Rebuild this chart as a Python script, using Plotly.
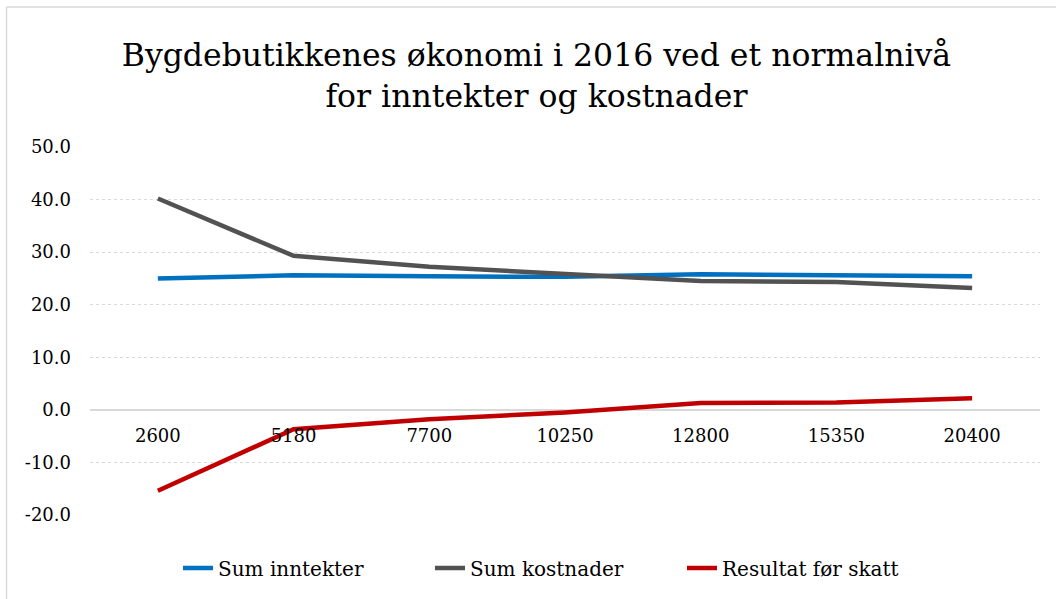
import plotly.graph_objects as go

categories = ["2600", "5180", "7700", "10250", "12800", "15350", "20400"]
sum_inntekter = [25.0, 25.6, 25.4, 25.3, 25.8, 25.7, 25.4]
sum_kostnader = [40.2, 29.3, 27.2, 25.8, 24.5, 24.3, 23.2]
resultat = [-15.4, -3.7, -1.8, -0.5, 1.3, 1.4, 2.2]
series_names = ["Sum inntekter", "Sum kostnader", "Resultat før skatt"]
colors = ["#0070C0", "#525252", "#C00000"]
title_text = "Bygdebutikkenes økonomi i 2016 ved et normalnivå<br>for inntekter og kostnader"
y_ticks = [-20, -10, 0, 10, 20, 30, 40, 50]

FONT = "DejaVu Serif"

fig = go.Figure()
for name, vals, col in zip(series_names, [sum_inntekter, sum_kostnader, resultat], colors):
    fig.add_trace(go.Scatter(x=categories, y=vals, name=name, mode="lines",
                             line=dict(color=col, width=4.5)))

L, R, T, B = 90, 16, 147, 84
W, H = 1056, 599
pw, ph = W - L - R, H - T - B
y_min, y_max = -20, 50

def px_x(p):
    return (p - L) / pw

def px_y(p):
    return (H - B - p) / ph

fig.update_layout(
    width=W, height=H,
    margin=dict(l=L, r=R, t=T, b=B, autoexpand=False),
    paper_bgcolor="white", plot_bgcolor="white",
    font=dict(family=FONT, color="#000000"),
    title=dict(text=title_text, x=0.508, xanchor="center", y=1 - 66 / H, yanchor="middle",
               font=dict(family=FONT, size=31.5, color="#000000")),
    xaxis=dict(type="category", anchor="free", position=(0 - y_min) / (y_max - y_min),
               range=[-0.5, len(categories) - 0.5],
               showgrid=False, showline=False, ticks="", zeroline=False,
               tickfont=dict(family=FONT, size=18, color="#000000"),
               ticklabelstandoff=13),
    yaxis=dict(range=[y_min, y_max], tickvals=y_ticks,
               ticktext=[f"{v:.1f}" for v in y_ticks],
               showgrid=True, gridcolor="#d9d9d9", gridwidth=1, griddash="dot",
               zeroline=True, zerolinecolor="#d9d9d9", zerolinewidth=1.5,
               showline=False, ticks="",
               tickfont=dict(family=FONT, size=18, color="#000000"),
               ticklabelstandoff=18),
    legend=dict(orientation="h", x=px_x(178), xanchor="left", y=px_y(568), yanchor="middle",
                font=dict(family=FONT, size=20, color="#000000"),
                itemwidth=30, entrywidth=207, entrywidthmode="pixels"),
    showlegend=True,
)

border = "#d9d9d9"
fig.add_shape(type="line", xref="paper", yref="paper",
              x0=px_x(6.5), x1=px_x(6.5), y0=px_y(H + 2), y1=px_y(7),
              line=dict(color=border, width=1.5))
fig.add_shape(type="line", xref="paper", yref="paper",
              x0=px_x(6.5), x1=px_x(W + 2), y0=px_y(7), y1=px_y(7),
              line=dict(color=border, width=1.5))

fig.write_html("out.html", config={"displayModeBar": False},
               post_script="document.body.style.margin='0';")
